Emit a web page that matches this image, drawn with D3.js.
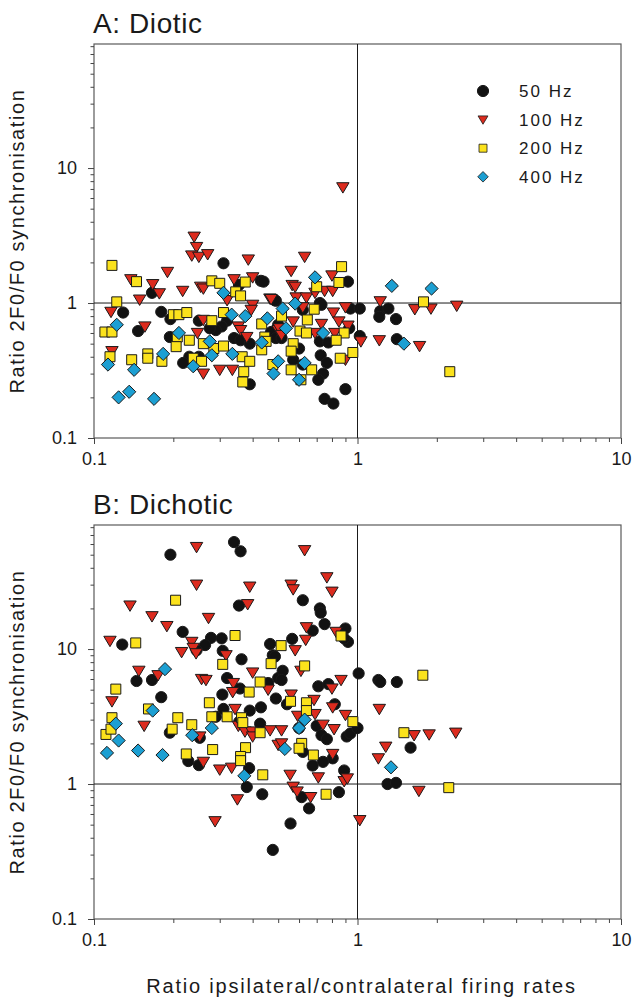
<!DOCTYPE html>
<html>
<head>
<meta charset="utf-8">
<script src="https://cdn.jsdelivr.net/npm/d3@7"></script>
<style>
  body { margin: 0; background: #fff; }
  text { font-family: "Liberation Sans", Arial, sans-serif; fill: #1a1a1a; }
</style>
</head>
<body>
<svg id="chart" width="633" height="1006"></svg>
<script>
// series labels
const seriesNames = ["50 Hz", "100 Hz", "200 Hz", "400 Hz"];
const panelTitles = ["A: Diotic", "B: Dichotic"];
const majorTicks = [0.1, 1, 10];

// A: Diotic  [ipsi/contra firing ratio, 2F0/F0 sync ratio]
const diotic50 = [[0.31,1.97],[0.43,1.46],[0.166,1.19],[0.355,1.36],[0.49,1.04],[0.129,0.85],[0.18,0.86],[0.195,0.76],[0.147,0.62],[0.25,0.74],[0.32,0.74],[0.305,0.67],[0.29,0.63],[0.275,0.65],[0.194,0.56],[0.34,0.55],[0.36,0.53],[0.39,0.50],[0.47,0.61],[0.49,0.55],[0.23,0.40],[0.218,0.36],[0.25,0.40],[0.39,0.25],[0.44,1.44],[0.92,1.44],[0.72,1.0],[0.73,0.97],[0.94,0.91],[1.02,0.91],[1.22,0.87],[1.31,0.91],[1.21,0.79],[1.40,0.76],[1.41,0.54],[1.02,0.57],[0.93,0.65],[0.62,0.89],[0.485,1.05],[0.50,0.69],[0.515,0.55],[0.72,0.52],[0.775,0.51],[0.60,0.46],[0.725,0.41],[0.765,0.36],[0.62,0.35],[0.74,0.30],[0.71,0.27],[0.90,0.23],[0.75,0.195],[0.81,0.18],[0.57,0.38]];
const diotic100 = [[0.24,3.1],[0.245,2.6],[0.235,2.25],[0.25,2.2],[0.27,2.3],[0.385,2.1],[0.19,1.7],[0.138,1.5],[0.167,1.38],[0.177,1.18],[0.149,1.06],[0.217,1.23],[0.254,1.32],[0.26,1.28],[0.34,1.5],[0.40,1.55],[0.465,1.08],[0.40,0.97],[0.395,0.89],[0.116,0.86],[0.156,0.67],[0.247,0.60],[0.26,0.75],[0.353,0.67],[0.36,0.63],[0.38,0.56],[0.117,0.44],[0.30,0.32],[0.335,0.32],[0.26,0.30],[0.50,0.63],[0.32,1.05],[0.63,2.2],[0.56,1.73],[0.80,1.6],[0.565,1.36],[0.58,1.32],[0.47,1.07],[0.585,1.1],[0.64,1.1],[0.69,1.19],[0.75,1.23],[0.805,1.23],[0.90,0.93],[0.81,0.85],[0.85,0.73],[0.92,0.68],[0.57,0.73],[0.505,0.65],[0.515,0.58],[0.73,0.70],[0.82,0.60],[0.69,0.60],[1.03,0.52],[1.21,0.53],[1.72,0.48],[1.22,1.03],[1.65,0.90],[1.9,0.91],[2.38,0.955],[0.90,0.38],[0.62,0.93],[0.88,7.2]];
const diotic200 = [[0.117,1.9],[0.145,1.44],[0.122,1.02],[0.28,1.46],[0.30,1.40],[0.375,1.43],[0.345,1.21],[0.36,1.13],[0.20,0.82],[0.21,0.82],[0.225,0.85],[0.31,0.85],[0.28,0.74],[0.11,0.61],[0.117,0.61],[0.433,0.70],[0.207,0.56],[0.23,0.53],[0.205,0.475],[0.26,0.50],[0.285,0.46],[0.31,0.48],[0.445,0.56],[0.433,0.45],[0.115,0.40],[0.16,0.42],[0.16,0.39],[0.139,0.38],[0.181,0.37],[0.238,0.39],[0.256,0.37],[0.365,0.40],[0.39,0.37],[0.37,0.31],[0.367,0.26],[0.477,0.35],[0.87,1.86],[0.85,1.42],[0.70,1.32],[1.78,1.02],[0.685,0.90],[0.515,0.80],[0.645,0.75],[0.605,0.62],[0.64,0.60],[0.89,0.60],[0.83,0.53],[0.45,0.52],[0.57,0.50],[0.56,0.44],[0.96,0.43],[0.86,0.39],[0.56,0.32],[0.67,0.32],[0.61,0.27],[2.24,0.31]];
const diotic400 = [[0.31,1.19],[0.122,0.69],[0.333,0.82],[0.375,0.80],[0.455,0.77],[0.21,0.60],[0.275,0.52],[0.433,0.51],[0.183,0.42],[0.28,0.41],[0.335,0.42],[0.113,0.35],[0.142,0.32],[0.238,0.34],[0.48,0.30],[0.50,0.37],[0.124,0.20],[0.136,0.22],[0.169,0.195],[0.69,1.55],[1.35,1.34],[1.91,1.28],[0.58,0.99],[0.52,0.91],[0.535,0.65],[0.74,0.60],[1.50,0.50],[0.63,0.36],[0.60,0.27]];

// B: Dichotic
const dichotic50 = [[0.34,62],[0.36,53],[0.195,50],[0.355,21],[0.217,13.4],[0.128,10.8],[0.278,12.1],[0.305,12],[0.264,10.7],[0.308,9.7],[0.245,9.8],[0.363,8.4],[0.466,10.9],[0.477,9.0],[0.145,5.8],[0.166,5.9],[0.18,4.4],[0.32,6.1],[0.358,5.1],[0.307,4.6],[0.458,5.6],[0.50,6.1],[0.62,23],[0.72,20],[0.725,18.6],[0.75,15.3],[0.676,13.7],[0.90,14.2],[0.92,11.3],[0.89,12],[0.565,11.9],[0.486,8.8],[0.52,6.9],[0.515,5.9],[0.71,5.3],[0.775,5.5],[1.01,6.6],[1.2,5.9],[1.22,5.7],[1.41,5.7],[0.31,3.6],[0.29,3.15],[0.39,3.5],[0.43,3.7],[0.49,4.3],[0.356,2.9],[0.427,2.8],[0.194,2.4],[0.252,2.2],[0.228,1.48],[0.25,1.38],[0.388,1.31],[0.38,0.95],[0.435,0.84],[0.477,0.325],[0.82,3.9],[0.54,3.9],[0.60,2.6],[0.70,2.7],[0.73,2.3],[0.765,2.15],[0.91,2.25],[0.94,2.37],[1.0,2.6],[0.62,1.73],[0.805,1.55],[0.74,1.46],[0.676,1.37],[0.89,1.26],[1.59,1.86],[1.30,1.0],[1.40,1.02],[0.85,0.87],[0.614,0.80],[0.655,0.66],[0.557,0.51]];
const dichotic100 = [[0.245,57],[0.245,30],[0.39,29],[0.137,21],[0.383,21.5],[0.166,17.5],[0.272,17],[0.189,14.8],[0.115,11.5],[0.235,11.3],[0.238,10.2],[0.215,9.5],[0.244,9.3],[0.317,9.0],[0.148,6.9],[0.175,6.4],[0.256,6.0],[0.266,5.9],[0.40,6.7],[0.338,5.6],[0.336,4.8],[0.458,5.0],[0.63,54],[0.765,34],[0.56,30],[0.57,27.7],[0.80,26.6],[0.64,14.5],[0.636,11.7],[0.83,13.4],[0.58,9.8],[0.61,6.9],[0.866,5.9],[0.80,5.1],[0.117,4.1],[0.155,2.7],[0.252,2.25],[0.343,3.6],[0.353,2.7],[0.374,2.45],[0.397,2.45],[0.40,2.25],[0.466,2.5],[0.50,1.95],[0.26,1.46],[0.30,1.28],[0.333,1.32],[0.35,0.77],[0.288,0.53],[0.56,4.6],[0.684,4.2],[0.805,3.7],[0.593,3.2],[0.69,3.3],[0.90,3.25],[0.74,2.75],[0.815,2.55],[0.515,2.5],[0.515,2.0],[0.805,1.67],[1.21,3.6],[1.28,1.89],[1.2,1.55],[1.64,2.3],[1.87,2.33],[2.36,2.4],[0.555,1.17],[0.71,1.12],[0.89,1.05],[0.915,1.1],[0.57,0.955],[0.59,0.88],[0.664,0.80],[1.02,0.54],[1.71,0.89]];
const dichotic200 = [[0.204,23],[0.343,12.6],[0.144,11.1],[0.308,7.7],[0.47,7.8],[0.427,5.7],[0.388,4.8],[0.121,5.05],[0.513,10.6],[0.866,12.5],[0.63,7.5],[1.77,6.4],[0.161,3.6],[0.117,3.1],[0.111,2.33],[0.116,2.55],[0.208,3.1],[0.198,2.55],[0.235,2.75],[0.274,4.0],[0.28,3.15],[0.32,3.15],[0.363,3.1],[0.367,2.85],[0.427,2.4],[0.224,1.67],[0.282,1.8],[0.376,1.86],[0.36,1.6],[0.36,1.49],[0.437,1.17],[0.557,4.1],[0.64,4.0],[0.64,3.5],[0.96,2.9],[0.614,2.0],[0.60,1.84],[0.68,1.64],[0.76,0.84],[1.50,2.4],[2.22,0.94]];
const dichotic400 = [[0.186,7.1],[0.167,3.5],[0.121,2.8],[0.124,2.1],[0.112,1.7],[0.147,1.77],[0.182,1.64],[0.236,2.3],[0.28,2.6],[0.372,1.15],[0.63,3.0],[0.60,2.6],[0.53,1.82],[1.34,1.33]];

// marker styles, one per frequency
const markers = [
  {shape: "circle",   fill: "#121212"},
  {shape: "triangle", fill: "#dc2b1e"},
  {shape: "square",   fill: "#fbe21c"},
  {shape: "diamond",  fill: "#1c9fd2"}
];

// path around the origin for each marker shape
function shapePath(shape) {
  if (shape === "circle") return d3.arc()({innerRadius: 0, outerRadius: 5.6, startAngle: 0, endAngle: 2 * Math.PI});
  if (shape === "triangle") return "M-6.2,-4.6L6.2,-4.6L0,5.8Z";
  if (shape === "square") return "M-5,-5H5V5H-5Z";
  return "M0,-6.6L6.6,0L0,6.6L-6.6,0Z";
}

const svg = d3.select("#chart");
const left = 94, right = 621;

const x = d3.scaleLog().domain([0.1, 10]).range([left, right]);

// every tick position on a log axis (majors + minors)
function logTicks(lo, hi) {
  const out = [];
  for (let dec = lo; dec < hi; dec *= 10) {
    for (let k = 1; k < 10; k++) out.push(+(dec * k).toPrecision(3));
  }
  out.push(hi);
  return out;
}
const xTicks = logTicks(0.1, 10);
const yTicks = logTicks(0.1, 100).filter(v => v <= 83);

const panels = [
  {top: 44, bottom: 438, title: panelTitles[0], data: [diotic50, diotic100, diotic200, diotic400], legend: true},
  {top: 525, bottom: 919, title: panelTitles[1], data: [dichotic50, dichotic100, dichotic200, dichotic400], legend: false}
];

panels.forEach(p => {
  const y = d3.scaleLog().domain([0.1, 83]).range([p.bottom, p.top]);
  const g = svg.append("g");

  // title
  g.append("text")
    .attr("x", left - 1)
    .attr("y", p.top - 11)
    .style("font-size", "28px")
    .style("letter-spacing", "0.6px")
    .text(p.title);

  // frame
  g.append("rect")
    .attr("x", left).attr("y", p.top)
    .attr("width", right - left).attr("height", p.bottom - p.top)
    .attr("fill", "none").attr("stroke", "#5a5a5a").attr("stroke-width", 1.2);

  // reference lines at ratio 1
  g.append("line")
    .attr("x1", x(1)).attr("x2", x(1))
    .attr("y1", p.top).attr("y2", p.bottom)
    .attr("stroke", "#1a1a1a").attr("stroke-width", 1);
  g.append("line")
    .attr("x1", left).attr("x2", right)
    .attr("y1", y(1)).attr("y2", y(1))
    .attr("stroke", "#1a1a1a").attr("stroke-width", 1);

  // x axis
  const xAxis = g.append("g")
    .attr("transform", `translate(0,${p.bottom})`)
    .call(d3.axisBottom(x).tickValues(xTicks)
      .tickFormat(v => majorTicks.includes(v) ? String(v) : "")
      .tickSize(6).tickSizeOuter(0).tickPadding(8));
  xAxis.select(".domain").remove();
  xAxis.selectAll(".tick line")
    .attr("stroke", "#444")
    .attr("y2", v => majorTicks.includes(v) ? 6 : 4);
  xAxis.selectAll(".tick text").style("font-size", "18px").attr("fill", "#1a1a1a");

  // y axis
  const yAxis = g.append("g")
    .attr("transform", `translate(${left},0)`)
    .call(d3.axisLeft(y).tickValues(yTicks)
      .tickFormat(v => majorTicks.includes(v) ? String(v) : "")
      .tickSize(6).tickSizeOuter(0).tickPadding(11));
  yAxis.select(".domain").remove();
  yAxis.selectAll(".tick line")
    .attr("stroke", "#444")
    .attr("x2", v => majorTicks.includes(v) ? -6 : -3.5);
  yAxis.selectAll(".tick text").style("font-size", "18px").attr("fill", "#1a1a1a");

  // y axis title
  g.append("text")
    .attr("transform", `translate(24,${(p.top + p.bottom) / 2}) rotate(-90)`)
    .attr("text-anchor", "middle")
    .style("font-size", "20px")
    .style("letter-spacing", "1.6px")
    .text("Ratio 2F0/F0 synchronisation");

  // points, one group per series
  p.data.forEach((series, i) => {
    g.append("g").selectAll("path")
      .data(series)
      .join("path")
      .attr("d", shapePath(markers[i].shape))
      .attr("transform", d => `translate(${x(d[0])},${y(d[1])})`)
      .attr("fill", markers[i].fill)
      .attr("stroke", "#1a1a1a")
      .attr("stroke-width", 1);
  });

  // legend
  if (p.legend) {
    const leg = g.append("g").attr("transform", "translate(483,91)");
    seriesNames.forEach((name, i) => {
      const row = leg.append("g").attr("transform", `translate(0,${i * 28.6})`);
      row.append("path")
        .attr("d", shapePath(markers[i].shape))
        .attr("transform", i === 0 ? null : "scale(0.8)")
        .attr("fill", markers[i].fill)
        .attr("stroke", "#1a1a1a").attr("stroke-width", 1);
      row.append("text")
        .attr("x", 36).attr("y", 6)
        .style("font-size", "17px")
        .style("letter-spacing", "2px")
        .text(name);
    });
  }
});

// x axis title
svg.append("text")
  .attr("x", (left + right) / 2 + 4)
  .attr("y", 993)
  .attr("text-anchor", "middle")
  .style("font-size", "20px")
  .style("letter-spacing", "1.8px")
  .text("Ratio ipsilateral/contralateral firing rates");
</script>
</body>
</html>
